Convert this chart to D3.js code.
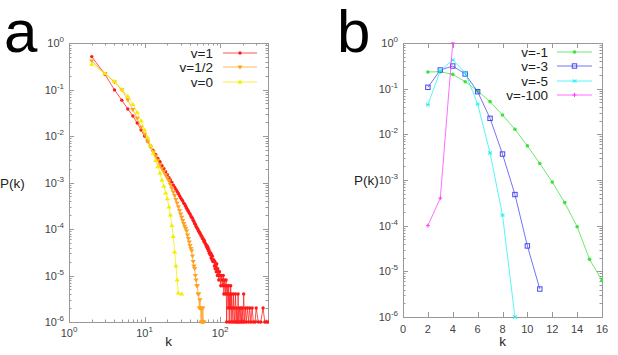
<!DOCTYPE html>
<html>
<head>
<meta charset="utf-8">
<script src="https://cdn.jsdelivr.net/npm/d3@7"></script>
<style>
  body { margin: 0; background: #fff; }
  svg { display: block; }
  .tick-label { font-family: "Liberation Sans", Arial, sans-serif; fill: #444; }
  .axis-label { font-family: "Liberation Sans", Arial, sans-serif; fill: #222; font-size: 13.5px; }
  .legend-text { font-family: "Liberation Sans", Arial, sans-serif; fill: #222; font-size: 13.5px; }
  .panel-letter { font-family: "Liberation Sans", Arial, sans-serif; fill: #000; font-size: 60px; }
</style>
</head>
<body>
<svg id="chart" width="618" height="355"></svg>
<script>
// panel a: P(k) for v = 1, 1/2, 0 (log-log)
const kRed = [2, 3, 4, 5, 6, 7, 8, 9, 10, 11, 12, 13, 14, 15, 16, 17, 18, 19, 20,
    21, 22, 23, 24, 25, 26, 27, 28, 29, 30, 31, 32, 33, 34, 35, 36, 37, 38, 39, 40,
    41, 42, 43, 44, 45, 46, 47, 48, 49, 50, 51, 52, 53, 54, 55, 56, 57, 58, 59, 60,
    61, 62, 63, 64, 65, 66, 67, 68, 69, 70, 71, 72, 73, 74, 75, 76, 77, 78, 79, 80,
    82, 84, 85, 86, 88, 89, 90, 92, 93, 95, 96, 98, 100, 102, 104, 106, 108, 110,
    112, 114, 116, 118, 120, 122, 124, 126, 128, 130, 132, 134, 136, 138, 140, 142,
    145, 148, 150, 153, 156, 160, 163, 166, 170, 173, 176, 180, 184, 188, 192, 196,
    200, 205, 210, 216, 222, 230, 238, 246, 255, 265, 275, 290, 300, 320, 345, 370, 390, 410, 430];
const pRed = [0.51, 0.21, 0.098, 0.059, 0.038, 0.027, 0.019, 0.0135, 0.0100, 0.0077, 0.0061,
    0.0049, 0.0040, 0.0033, 0.0028, 0.0023, 0.0020, 0.0017, 0.00148,
    0.00128, 0.00113, 0.00100, 0.00088, 0.00079, 0.00071, 0.00064, 0.00058, 0.00052, 0.00047,
    0.00043, 0.00040, 0.00036, 0.00034, 0.00031, 0.00028, 0.00026, 0.00024, 0.00022, 0.00021,
    0.00019, 0.00018, 0.00017, 0.000155, 0.000145, 0.000132, 0.000126, 0.000115, 0.000108, 0.000102,
    9.6e-5, 9.0e-5, 8.6e-5, 8.0e-5, 7.8e-5, 7.2e-5, 7.0e-5, 6.4e-5, 6.2e-5, 6.0e-5,
    5.4e-5, 5.6e-5, 5.0e-5, 4.8e-5, 4.6e-5, 4.2e-5, 4.4e-5, 3.8e-5, 4.0e-5, 3.4e-5,
    3.6e-5, 3.0e-5, 3.2e-5, 2.8e-5, 3.0e-5, 2.4e-5, 2.8e-5, 2.2e-5, 2.6e-5, 2.0e-5,
    2.2e-5, 1.6e-5, 2.0e-5, 1.4e-5, 1.6e-5, 1.2e-5, 1.8e-5, 1.0e-5, 1.4e-5, 1.2e-5, 8e-6,
    1.2e-5, 1.0e-5, 6e-6, 1.0e-5, 8e-6, 6e-6, 1.0e-5,
    4e-6, 8e-6, 6e-6, 4e-6, 8e-6, 1e-6, 6e-6, 4e-6, 2e-6, 6e-6, 1e-6, 4e-6, 2e-6, 6e-6, 1e-6, 4e-6,
    2e-6, 1e-6, 4e-6, 2e-6, 1e-6, 4e-6, 1e-6, 2e-6, 1e-6, 4e-6, 1e-6, 2e-6, 1e-6, 2e-6, 1e-6, 2e-6,
    1e-6, 4e-6, 1e-6, 2e-6, 1e-6, 2e-6, 1e-6, 2e-6, 1e-6, 2e-6, 1e-6, 1e-6, 2e-6, 1e-6, 1e-6, 2e-6, 1e-6, 1e-6, 1e-6];

const kOrange = [2, 3, 4, 5, 6, 7, 8, 9, 10, 11, 12, 13, 14, 15, 16, 17, 18, 19, 20,
    21, 22, 23, 24, 25, 26, 27, 28, 29, 30, 31, 32, 33, 34, 35, 36, 37, 38, 39, 40,
    41, 42, 43, 44, 45, 46, 47, 48, 49, 50, 51, 52, 53, 54, 55, 56, 57, 58, 59, 60, 61];
const pOrange = [0.41, 0.22, 0.145, 0.098, 0.060, 0.037, 0.024, 0.0155, 0.0108, 0.0077, 0.0058,
    0.0046, 0.0037, 0.0030, 0.0024, 0.0020, 0.0017, 0.00145, 0.00125,
    0.00108, 0.00090, 0.00075, 0.00062, 0.00052, 0.00043, 0.00036, 0.00030, 0.00025, 0.00021,
    0.000178, 0.000152, 0.000130, 0.000114, 0.000102, 0.000090, 0.000074, 0.000062, 0.000052, 0.000044,
    0.000038, 0.000034, 0.000026, 0.000020, 0.000016, 0.000014, 0.000010, 0.000008, 0.000006, 0.000006,
    0.000004, 0.000004, 0.000002, 0.000003, 0.000002, 0.000001, 0.000002, 0.000001, 0.000002, 0.000001, 0.000001];

const kYellow = [2, 3, 4, 5, 6, 7, 8, 9, 10, 11, 12, 13, 14, 15, 16, 17, 18, 19, 20,
    21, 22, 23, 24, 25, 26, 27, 28, 31];
const pYellow = [0.35, 0.22, 0.15, 0.10, 0.072, 0.048, 0.032, 0.021, 0.0135, 0.0093, 0.0062,
    0.0043, 0.0030, 0.0022, 0.0016, 0.00112, 0.00083, 0.00060, 0.00045,
    0.00030, 0.00020, 0.00012, 0.000069, 0.000032, 0.000016, 0.000008, 0.0000042, 0.000004];

// panel b: P(k) for v = -1, -3, -5, -100 (lin-log)
const kGreen = [2, 3, 4, 5, 6, 7, 8, 9, 10, 11, 12, 13, 14, 15, 16];
const pGreen = [0.232, 0.235, 0.206, 0.142, 0.089, 0.052, 0.0265, 0.0129, 0.0056, 0.0023,
    0.00090, 0.00032, 0.000095, 0.0000183, 0.0000063];
const kBlue = [2, 3, 4, 5, 6, 7, 8, 9, 10, 11];
const pBlue = [0.107, 0.256, 0.313, 0.21, 0.086, 0.0224, 0.0037, 0.00048, 0.000036, 0.0000041];
const kCyan = [2, 3, 4, 5, 6, 7, 8, 9];
const pCyan = [0.0446, 0.248, 0.425, 0.224, 0.046, 0.0039, 0.00017, 0.000001];
const kMagenta = [2, 3, 4];
const pMagenta = [0.0001, 0.0004, 1.0];

const yExps = [0, -1, -2, -3, -4, -5, -6];
const aXExps = [0, 1, 2];
const bXTicks = [0, 2, 4, 6, 8, 10, 12, 14, 16];

const zip = (ks, ps) => ks.map((k, i) => ({ k, p: ps[i] }));

const seriesA = [
    { label: "v=1", color: "#ff1a1a", marker: "circle", data: zip(kRed, pRed) },
    { label: "v=1/2", color: "#ffa020", marker: "triDown", data: zip(kOrange, pOrange) },
    { label: "v=0", color: "#f2ee00", marker: "triUp", data: zip(kYellow, pYellow) }
];
const seriesB = [
    { label: "v=-1", color: "#3fe03f", marker: "dot", data: zip(kGreen, pGreen) },
    { label: "v=-3", color: "#4646f0", marker: "square", data: zip(kBlue, pBlue) },
    { label: "v=-5", color: "#22f0f0", marker: "star", data: zip(kCyan, pCyan) },
    { label: "v=-100", color: "#ff3cff", marker: "plus", data: zip(kMagenta, pMagenta) }
];

const svg = d3.select("#chart");

const drawMarker = (sel, type, color) => {
    if (type === "circle") {
        sel.append("circle").attr("r", 1.7).attr("fill", color);
    } else if (type === "dot") {
        sel.append("circle").attr("r", 1.8).attr("fill", color);
    } else if (type === "triDown") {
        sel.append("path").attr("d", "M-2.6,-1.6L2.6,-1.6L0,2.4Z").attr("fill", color);
    } else if (type === "triUp") {
        sel.append("path").attr("d", "M-2.6,1.6L2.6,1.6L0,-2.4Z").attr("fill", color);
    } else if (type === "square") {
        sel.append("rect").attr("x", -2.2).attr("y", -2.2).attr("width", 4.4).attr("height", 4.4)
            .attr("fill", "none").attr("stroke", color).attr("stroke-width", 1);
    } else if (type === "star") {
        sel.append("path").attr("d", "M-1.8,-1.8L1.8,1.8M-1.8,1.8L1.8,-1.8M-2,0L2,0")
            .attr("stroke", color).attr("stroke-width", 1);
    } else if (type === "plus") {
        sel.append("path").attr("d", "M-2,0L2,0M0,-2L0,2")
            .attr("stroke", color).attr("stroke-width", 1);
    }
};

const powLabel = (sel, exp, big, small) => {
    sel.append("tspan").attr("font-size", big).text("10");
    sel.append("tspan").attr("font-size", small).attr("dy", -5).text(exp);
};

const renderPanel = (cfg) => {
    const { left, right, top, bottom, xScale, series, id } = cfg;
    const yScale = d3.scaleLog().domain([1e-6, 1]).range([bottom, top]);
    const g = svg.append("g");

    // minor y ticks (2..9 of each decade), both sides
    const yMinor = [];
    yExps.slice(1).forEach(e => d3.range(2, 10).forEach(m => yMinor.push(m * Math.pow(10, e))));
    const yMajor = yExps.map(e => Math.pow(10, e));

    const tickG = g.append("g").attr("stroke", "#999").attr("stroke-width", 1);
    yMajor.forEach(v => {
        const y = Math.round(yScale(v)) + 0.5;
        tickG.append("line").attr("x1", left).attr("x2", left + 5).attr("y1", y).attr("y2", y);
        tickG.append("line").attr("x1", right - 5).attr("x2", right).attr("y1", y).attr("y2", y);
    });
    yMinor.forEach(v => {
        const y = Math.round(yScale(v)) + 0.5;
        tickG.append("line").attr("x1", left).attr("x2", left + 2.5).attr("y1", y).attr("y2", y);
        tickG.append("line").attr("x1", right - 2.5).attr("x2", right).attr("y1", y).attr("y2", y);
    });
    cfg.xMajor.forEach(v => {
        const x = Math.round(xScale(v)) + 0.5;
        tickG.append("line").attr("x1", x).attr("x2", x).attr("y1", bottom).attr("y2", bottom - 5);
        tickG.append("line").attr("x1", x).attr("x2", x).attr("y1", top).attr("y2", top + 5);
    });
    cfg.xMinor.forEach(v => {
        const x = Math.round(xScale(v)) + 0.5;
        tickG.append("line").attr("x1", x).attr("x2", x).attr("y1", bottom).attr("y2", bottom - 2.5);
        tickG.append("line").attr("x1", x).attr("x2", x).attr("y1", top).attr("y2", top + 2.5);
    });

    g.append("rect")
        .attr("x", left + 0.5).attr("y", top + 0.5)
        .attr("width", right - left).attr("height", bottom - top)
        .attr("fill", "none").attr("stroke", "#999").attr("stroke-width", 1);

    // y tick labels
    yExps.forEach(e => {
        const t = g.append("text").attr("class", "tick-label")
            .attr("x", left - 5).attr("y", yScale(Math.pow(10, e)) + 4)
            .attr("text-anchor", "end");
        powLabel(t, e, 11, 8);
    });

    // clip and data
    svg.append("clipPath").attr("id", `clip-${id}`)
        .append("rect").attr("x", left).attr("y", top - 1)
        .attr("width", right - left + 1).attr("height", bottom - top + 3);

    const dataG = g.append("g").attr("clip-path", `url(#clip-${id})`);
    const line = d3.line().x(d => xScale(d.k)).y(d => yScale(d.p));

    series.forEach(s => {
        dataG.append("path")
            .datum(s.data)
            .attr("d", line)
            .attr("fill", "none")
            .attr("stroke", s.color)
            .attr("stroke-opacity", 0.75)
            .attr("stroke-width", 1);
        dataG.selectAll(null).data(s.data)
            .enter()
            .append("g")
            .attr("transform", d => `translate(${xScale(d.k)},${yScale(d.p)})`)
            .each(function () { drawMarker(d3.select(this), s.marker, s.color); });
    });

    // legend
    series.forEach((s, i) => {
        const ly = cfg.legendY[i];
        g.append("text").attr("class", "legend-text")
            .attr("x", cfg.legendTextX).attr("y", ly + 5)
            .attr("text-anchor", "end")
            .text(s.label);
        g.append("line")
            .attr("x1", cfg.legendLineX[0]).attr("x2", cfg.legendLineX[1])
            .attr("y1", ly).attr("y2", ly)
            .attr("stroke", s.color).attr("stroke-opacity", 0.75);
        const m = g.append("g")
            .attr("transform", `translate(${(cfg.legendLineX[0] + cfg.legendLineX[1]) / 2},${ly})`);
        drawMarker(m, s.marker, s.color);
    });

    // axis titles
    g.append("text").attr("class", "axis-label")
        .attr("x", (left + right) / 2).attr("y", cfg.kLabelY)
        .attr("text-anchor", "middle")
        .text("k");
    g.append("text").attr("class", "axis-label")
        .attr("x", cfg.pkX).attr("y", (top + bottom) / 2 + 5)
        .text("P(k)");

    return g;
};

// panel a
const xA = d3.scaleLog().domain([1, 430]).range([69, 268]);
const aMinor = [];
[0, 1, 2].forEach(e => d3.range(2, 10).forEach(m => {
    const v = m * Math.pow(10, e);
    if (v <= 430) aMinor.push(v);
}));
const gA = renderPanel({
    id: "a", left: 69, right: 268, top: 43, bottom: 322,
    xScale: xA, series: seriesA,
    xMajor: aXExps.map(e => Math.pow(10, e)), xMinor: aMinor,
    legendY: [53, 67, 82], legendTextX: 213, legendLineX: [223, 257],
    kLabelY: 346, pkX: 0
});
aXExps.forEach(e => {
    const t = gA.append("text").attr("class", "tick-label")
        .attr("x", xA(Math.pow(10, e))).attr("y", 337)
        .attr("text-anchor", "middle");
    powLabel(t, e, 11, 8);
});

// panel b
const xB = d3.scaleLinear().domain([0, 16]).range([403, 602]);
const gB = renderPanel({
    id: "b", left: 403, right: 602, top: 43, bottom: 317,
    xScale: xB, series: seriesB,
    xMajor: bXTicks, xMinor: [],
    legendY: [52, 66, 81, 95], legendTextX: 548, legendLineX: [557, 592],
    kLabelY: 346, pkX: 354
});
bXTicks.forEach(v => {
    gB.append("text").attr("class", "tick-label")
        .attr("x", xB(v)).attr("y", 333)
        .attr("text-anchor", "middle")
        .attr("font-size", 11)
        .text(v);
});

// panel letters
svg.append("text").attr("class", "panel-letter").attr("x", 4).attr("y", 52).text("a");
svg.append("text").attr("class", "panel-letter").attr("x", 337).attr("y", 52).text("b");
</script>
</body>
</html>
